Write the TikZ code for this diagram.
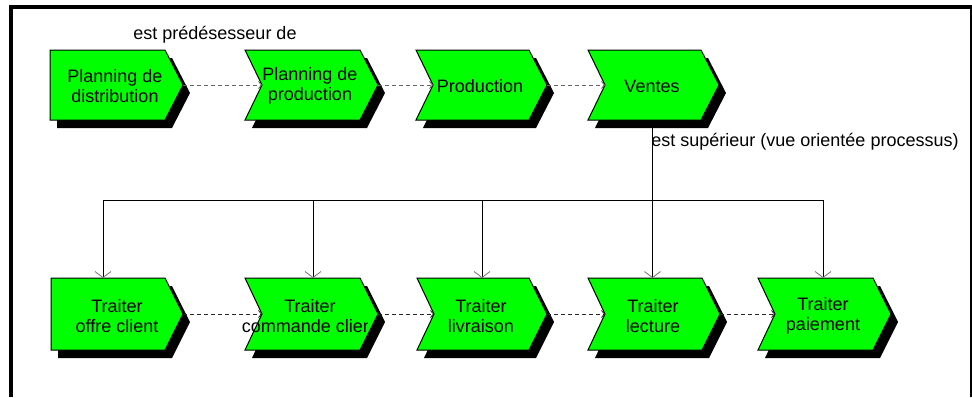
\documentclass[tikz,border=0pt]{standalone}
\usepackage{fontspec}
\setmainfont{Liberation Sans}
\usetikzlibrary{arrows.meta}
\definecolor{evgreen}{RGB}{0,255,0}
% #1 name, #2 left, #3 top, #4 bottom, #5 tip x, #6 notch depth
\newcommand\evtshape[6]{%
  \pgfmathsetmacro\shR{#5-18}%
  \pgfmathsetmacro\shM{(#3+#4)/2}%
  \pgfmathsetmacro\shN{#2+#6}%
  \fill[black,shift={(7,8)}] (#2,#3) -- (\shR,#3) -- (#5,\shM) -- (\shR,#4) -- (#2,#4) -- (\shN,\shM) -- cycle;
  \filldraw[fill=evgreen,draw=black,line width=1pt,line join=miter] (#2,#3) -- (\shR,#3) -- (#5,\shM) -- (\shR,#4) -- (#2,#4) -- (\shN,\shM) -- cycle;
  \coordinate (#1-in) at (\shN,\shM);
  \coordinate (#1-out) at (#5,\shM);
}
\tikzset{
  lbl/.style={font=\fontsize{18}{19.5}\selectfont, align=center, inner sep=0pt, text=black},
  dashtop/.style={black!60, line width=0.9pt, dash pattern=on 4pt off 3pt, -{Straight Barb[length=3pt,width=7pt,line width=0.8pt]}},
  dashbot/.style={black!85, line width=0.9pt, dash pattern=on 4pt off 3pt, -{Straight Barb[length=3pt,width=7pt,line width=0.8pt]}},
  conn/.style={black, line width=1pt},
  hierarrow/.style={conn, -{Straight Barb[length=6pt,width=16pt,line width=0.8pt,color=black!55]}}
}
\begin{document}
\begin{tikzpicture}[x=1pt,y=-1pt]
\useasboundingbox (0,0) rectangle (972,397);
\fill[white] (0,0) rectangle (972,397);
% frame
\draw[line width=3.6pt] (10.8,397) -- (10.8,6.8) -- (972,6.8);
\draw[line width=2.2pt] (970.9,5) -- (970.9,397);
% top row
\evtshape{p1}{50}{50}{120}{183}{0}
\evtshape{p2}{245}{50}{120}{378}{17}
\evtshape{p3}{416}{50}{120}{547}{17}
\evtshape{p4}{588}{50}{120}{719}{17}
\node[lbl] (n1) at (115,86) {Planning de\\distribution};
\node[lbl] (n2) at (310,86) {Planning de\\production};
\node[lbl] (n3) at (480,86) {Production};
\node[lbl] (n4) at (652,86) {Ventes};
% bottom row
\evtshape{t1}{51}{278}{350}{183}{0}
\evtshape{t2}{245}{278}{350}{378}{17}
\evtshape{t3}{417}{278}{350}{547}{17}
\evtshape{t4}{588}{278}{350}{720}{17}
\evtshape{t5}{758}{278}{350}{891}{17}
\node[lbl] (m1) at (117,316) {Traiter\\offre client};
\begin{scope}
  \clip (230,280) rectangle (367,352);
  \node[lbl] (m2) at (310,316) {Traiter\\commande client};
\end{scope}
\node[lbl] (m3) at (481,316) {Traiter\\livraison};
\node[lbl] (m4) at (653,316) {Traiter\\lecture};
\node[lbl] (m5) at (823,316) {Traiter\\paiement};
% labels
\node[lbl] (lpred) at (215,35) {est prédésesseur de};
\node[lbl] (lsup) at (805,142) {est supérieur (vue orientée processus)};
% predecessor connectors
\draw[dashtop] (p1-out) -- (p2-in);
\draw[dashtop] (p2-out) -- (p3-in);
\draw[dashtop] (p3-out) -- (p4-in);
\draw[dashbot] (t1-out) -- (t2-in);
\draw[dashbot] (t2-out) -- (t3-in);
\draw[dashbot] (t3-out) -- (t4-in);
\draw[dashbot] (t4-out) -- (t5-in);
% hierarchy
\coordinate (p4-bot) at (652.5,128);
\coordinate (bus) at (652.5,200);
\coordinate (t1-top) at (103,278);
\coordinate (t2-top) at (313,278);
\coordinate (t3-top) at (482,278);
\coordinate (t4-top) at (652.5,278);
\coordinate (t5-top) at (823,278);
\draw[conn] (p4-bot) -- (bus);
\foreach \i in {1,...,5} \draw[hierarrow] (bus) -| (t\i-top);
\end{tikzpicture}
\end{document}
